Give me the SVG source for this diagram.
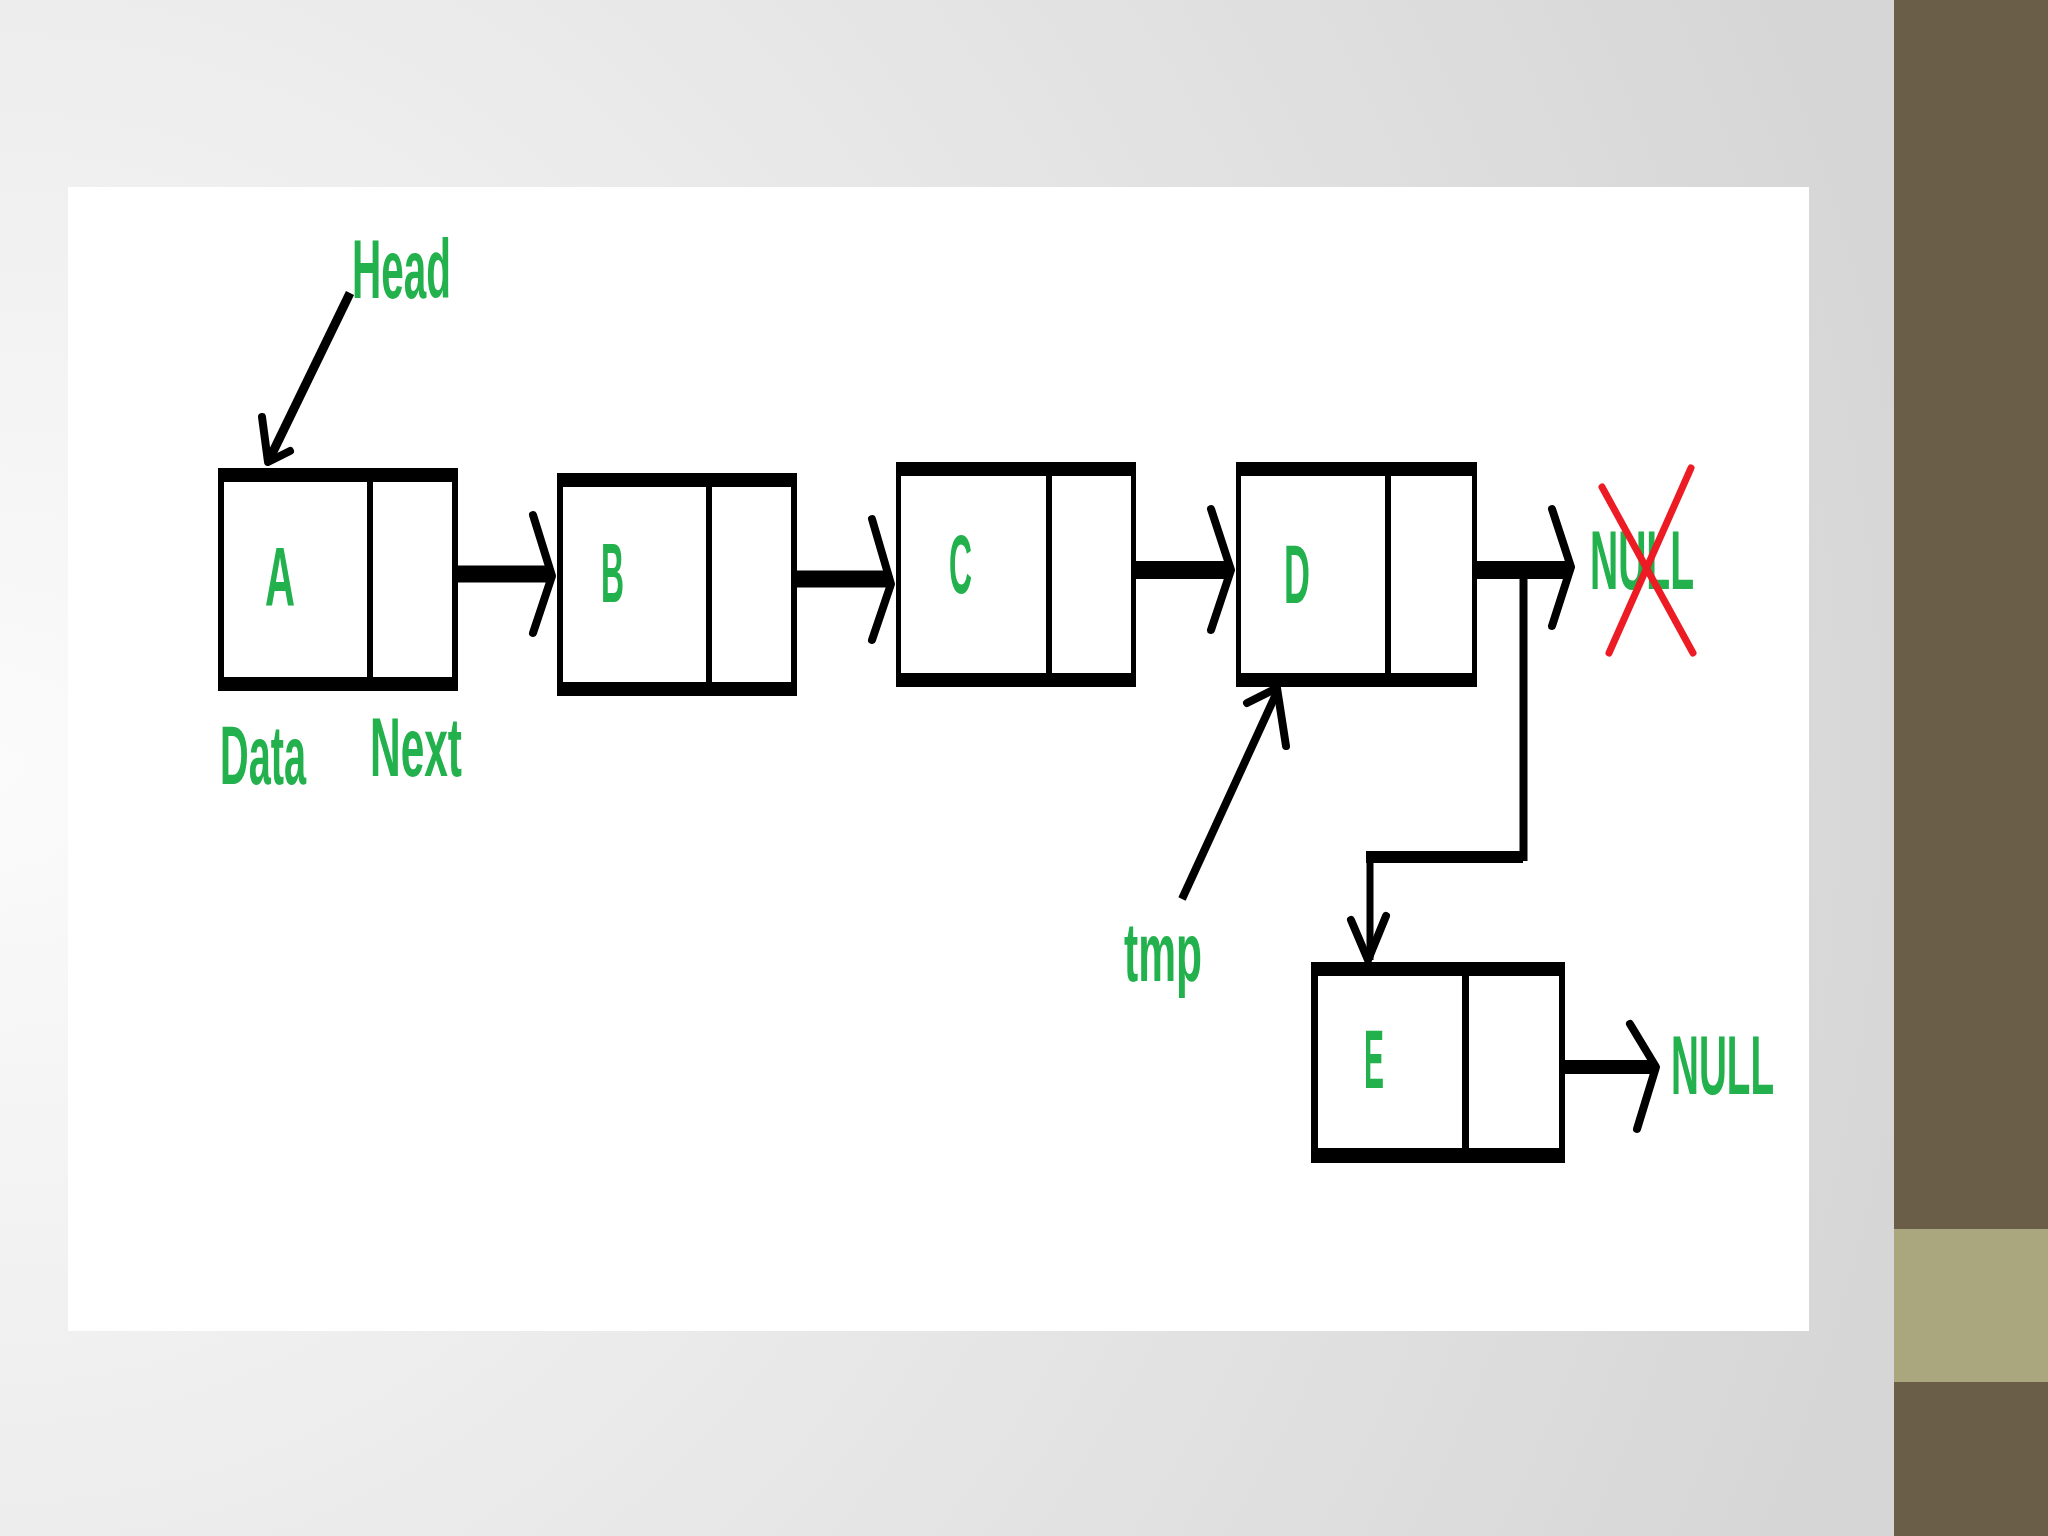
<svg xmlns="http://www.w3.org/2000/svg" width="2048" height="1536" viewBox="0 0 2048 1536">
<defs>
<radialGradient id="bg" gradientUnits="userSpaceOnUse" cx="0" cy="768" r="1950">
<stop offset="0" stop-color="#fbfbfb"/>
<stop offset="1" stop-color="#d6d6d6"/>
</radialGradient>
<style>
.lbl{font-family:"Liberation Sans",Arial,sans-serif;font-weight:bold;fill:#22b14c;font-size:84px}
.outer{fill:#000}
.inner{fill:#fff}
.ln{stroke:#000;fill:none;stroke-linecap:butt;stroke-linejoin:miter}
.ah{stroke:#000;fill:none;stroke-width:8;stroke-linecap:round;stroke-linejoin:round}
.x{stroke:#ed1c24;stroke-width:7;stroke-linecap:round}
</style>
</defs>
<rect x="0" y="0" width="2048" height="1536" fill="url(#bg)"/>
<rect x="1894" y="0" width="154" height="1536" fill="#6a5e48"/>
<rect x="1894" y="1229" width="154" height="153" fill="#aaa77f"/>
<rect x="68" y="187" width="1741" height="1144" fill="#fff"/>

<g id="connectors">
<line class="ln" x1="350" y1="293" x2="269" y2="460" stroke-width="9"/>
<polyline class="ah" points="262,417 268,462 290,451"/>
<line class="ln" x1="457" y1="574" x2="550" y2="574" stroke-width="17"/>
<polyline class="ah" points="533,515 552,576 533,633"/>
<line class="ln" x1="797" y1="579" x2="890" y2="579" stroke-width="17"/>
<polyline class="ah" points="872,519 891,584 872,640"/>
<line class="ln" x1="1136" y1="570" x2="1229" y2="570" stroke-width="18"/>
<polyline class="ah" points="1211,509 1231,570 1211,630"/>
<line class="ln" x1="1476" y1="570" x2="1569" y2="570" stroke-width="18"/>
<polyline class="ah" points="1552,509 1571,567 1552,626"/>
<polyline class="ln" points="1523.5,570 1523.5,857 1370,857" stroke-width="8"/>
<line class="ln" x1="1523" y1="857" x2="1366" y2="857" stroke-width="12"/>
<line class="ln" x1="1370" y1="851" x2="1370" y2="960" stroke-width="7"/>
<polyline class="ah" points="1351,920 1368,960 1386,916"/>
<line class="ln" x1="1182" y1="899" x2="1277" y2="692" stroke-width="8"/>
<polyline class="ah" points="1247,703 1277,688 1286,746"/>
<line class="ln" x1="1565" y1="1067" x2="1652" y2="1067" stroke-width="14"/>
<polyline class="ah" points="1630,1024 1656,1067 1637,1129"/>
</g>

<g id="node-A">
<rect class="outer" x="218" y="468" width="240" height="223"/>
<rect class="inner" x="224" y="482" width="228" height="195"/>
<rect class="outer" x="367" y="468" width="6" height="223"/>
<text class="lbl" transform="translate(265,606) scale(0.5,1)" textLength="60" lengthAdjust="spacingAndGlyphs">A</text>
</g>
<g id="node-B">
<rect class="outer" x="557" y="473" width="240" height="223"/>
<rect class="inner" x="563" y="487" width="228" height="195"/>
<rect class="outer" x="706" y="473" width="6" height="223"/>
<text class="lbl" transform="translate(601,602) scale(0.5,1)" textLength="46" lengthAdjust="spacingAndGlyphs">B</text>
</g>
<g id="node-C">
<rect class="outer" x="896" y="462" width="240" height="225"/>
<rect class="inner" x="901" y="476" width="230" height="197"/>
<rect class="outer" x="1046" y="462" width="6" height="225"/>
<text class="lbl" transform="translate(949,593) scale(0.5,1)" textLength="46" lengthAdjust="spacingAndGlyphs">C</text>
</g>
<g id="node-D">
<rect class="outer" x="1236" y="462" width="241" height="225"/>
<rect class="inner" x="1241" y="476" width="231" height="197"/>
<rect class="outer" x="1385" y="462" width="6" height="225"/>
<text class="lbl" transform="translate(1284,603) scale(0.5,1)" textLength="52" lengthAdjust="spacingAndGlyphs">D</text>
</g>
<g id="node-E">
<rect class="outer" x="1311" y="962" width="254" height="201"/>
<rect class="inner" x="1318" y="976" width="241" height="172"/>
<rect class="outer" x="1462" y="962" width="7" height="201"/>
<text class="lbl" transform="translate(1364,1088) scale(0.5,1)" textLength="40" lengthAdjust="spacingAndGlyphs">E</text>
</g>

<g id="labels">
<text class="lbl" transform="translate(352,298) scale(0.5,1)" font-size="88" textLength="198" lengthAdjust="spacingAndGlyphs">Head</text>
<text class="lbl" transform="translate(220,784) scale(0.5,1)" textLength="172" lengthAdjust="spacingAndGlyphs">Data</text>
<text class="lbl" transform="translate(370,776) scale(0.5,1)" textLength="184" lengthAdjust="spacingAndGlyphs">Next</text>
<text class="lbl" transform="translate(1124,981) scale(0.5,1)" textLength="156" lengthAdjust="spacingAndGlyphs">tmp</text>
<text class="lbl" transform="translate(1590,589) scale(0.5,1)" font-size="86" textLength="208" lengthAdjust="spacingAndGlyphs">NULL</text>
<text class="lbl" transform="translate(1671,1094) scale(0.5,1)" font-size="86" textLength="206" lengthAdjust="spacingAndGlyphs">NULL</text>
</g>
<g id="cross">
<line class="x" x1="1602" y1="487" x2="1693" y2="653"/>
<line class="x" x1="1691" y1="468" x2="1609" y2="653"/>
</g>
</svg>
